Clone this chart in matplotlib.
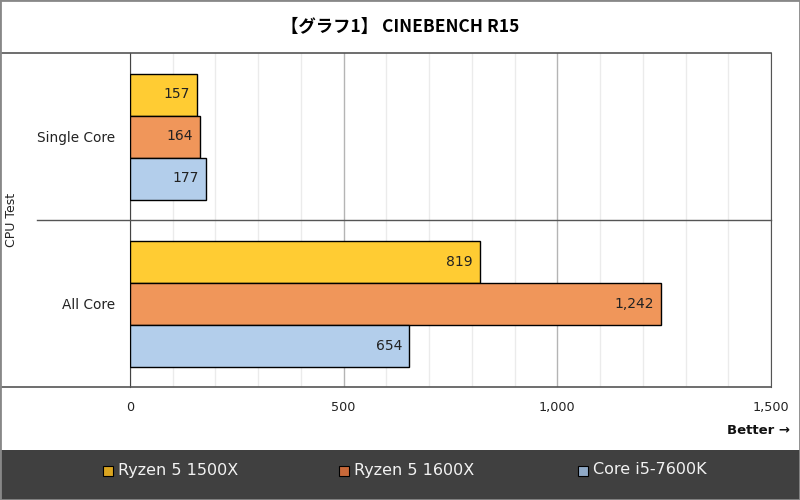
import matplotlib
matplotlib.use("Agg")
import matplotlib.pyplot as plt
from matplotlib.patches import Rectangle

plt.rcParams['font.family'] = ['DejaVu Sans', 'Noto Sans CJK JP']

title = "【グラフ1】 CINEBENCH R15"
categories = ["Single Core", "All Core"]
series = ["Ryzen 5 1500X", "Ryzen 5 1600X", "Core i5-7600K"]
values = {
    "Ryzen 5 1500X": [157, 819],
    "Ryzen 5 1600X": [164, 1242],
    "Core i5-7600K": [177, 654],
}
bar_colors = ["#FFCC33", "#F0965A", "#B3CEEB"]
legend_colors = ["#DAA520", "#C8693A", "#8FA9C6"]
xticks = [0, 500, 1000, 1500]

W, H = 800, 500
fig = plt.figure(figsize=(8, 5), dpi=100)
fig.patch.set_facecolor("white")

# axes box in pixels
x0, x1, ytop, ybot = 130, 771, 53, 387
ax = fig.add_axes([x0 / W, 1 - ybot / H, (x1 - x0) / W, (ybot - ytop) / H])

bh = 42 / 167
for i, s in enumerate(series):
    pos = [c + 0.5 + (i - 1) * bh for c in range(len(categories))]
    bars = ax.barh(pos, values[s], height=bh, color=bar_colors[i],
                   edgecolor="black", linewidth=1, zorder=3)
    for b, v in zip(bars, values[s]):
        ax.annotate(f"{v:,}", (v, b.get_y() + bh / 2), xytext=(-7, 0),
                    textcoords="offset pixels", ha="right", va="center",
                    fontsize=10, color="#222222", zorder=4)

ax.set_xlim(0, 1500)
ax.set_ylim(len(categories), 0)
ax.set_xticks(xticks)
ax.set_xticklabels([f"{t:,}" for t in xticks], fontsize=9.2, color="#222222")
ax.set_xticks(range(0, 1501, 100), minor=True)
ax.grid(axis="x", which="minor", color="#EBEBEB", linewidth=1, zorder=0)
ax.grid(axis="x", which="major", color="#B4B4B4", linewidth=1, zorder=1)
ax.tick_params(axis="x", which="both", length=0, pad=10)
ax.set_yticks([c + 0.5 for c in range(len(categories))])
ax.set_yticklabels(categories, fontsize=9.8, color="#222222", va="bottom")
ax.tick_params(axis="y", length=0, pad=11)
for lbl in ax.get_yticklabels():
    lbl.set_verticalalignment("center_baseline")

for side in ["top", "bottom"]:
    ax.spines[side].set_visible(False)
ax.spines["left"].set_color("#444444")
ax.spines["right"].set_color("#555555")

# frame lines reaching left
ax.plot([-x0 / (x1 - x0), 1], [0, 0], transform=ax.get_yaxis_transform(),
        color="#555555", lw=1.2, clip_on=False, zorder=5)
ax.plot([-x0 / (x1 - x0), 1], [2, 2], transform=ax.get_yaxis_transform(),
        color="#555555", lw=1.2, clip_on=False, zorder=5)
ax.plot([-(x0 - 37) / (x1 - x0), 1], [1, 1], transform=ax.get_yaxis_transform(),
        color="#555555", lw=1, clip_on=False, zorder=5)

fig.text(12 / W, 1 - 220 / H, "CPU Test", rotation=90, ha="center", va="center",
         fontsize=9, color="#222222")
fig.text(400 / W, 1 - 27 / H, title, ha="center", va="center", fontsize=12.5,
         fontweight="bold", family=["Noto Sans CJK JP", "DejaVu Sans"])
fig.text(790 / W, 1 - 431 / H, "Better →", ha="right", va="center", fontsize=9.5,
         fontweight="bold", color="#111111")

# legend band
fig.patches.append(Rectangle((0, 0), 1, 50 / H, transform=fig.transFigure,
                             facecolor="#404040", edgecolor="none", zorder=0))
leg_x = [103, 339, 578]
for lx, s, c in zip(leg_x, series, legend_colors):
    fig.patches.append(Rectangle((lx / W, 1 - 476 / H), 10 / W, 10 / H,
                                 transform=fig.transFigure, facecolor=c,
                                 edgecolor="black", linewidth=0.8))
    fig.text((lx + 15) / W, 1 - 470 / H, s, ha="left", va="center",
             fontsize=11.5, color="#F2F2F2")

# outer border
fig.patches.append(Rectangle((0, 0), 1, 1, transform=fig.transFigure,
                             facecolor="none", edgecolor="#888888", linewidth=2))

fig.savefig("out.png", dpi=100)
